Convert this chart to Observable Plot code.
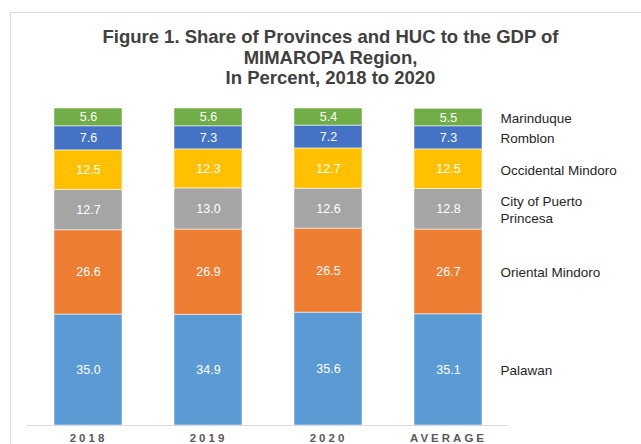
<!DOCTYPE html>
<html>
<head>
<meta charset="utf-8">
<script src="https://cdn.jsdelivr.net/npm/d3@7"></script>
<script src="https://cdn.jsdelivr.net/npm/@observablehq/plot@0.6"></script>
<style>
  html, body { margin: 0; padding: 0; background: #fff; }
  #wrap { position: relative; width: 641px; height: 444px; overflow: hidden; font-family: "Liberation Sans", Arial, sans-serif; }
  #frameTop { position: absolute; left: 10px; top: 12px; right: 0; height: 0; border-top: 1px solid #d9d9d9; }
  #frameLeft { position: absolute; left: 10px; top: 12px; bottom: 0; width: 0; border-left: 1px solid #d9d9d9; }
  #title { position: absolute; left: 20px; right: 0; top: 27px; text-align: center; font-weight: bold; font-size: 18.5px; line-height: 20.5px; color: #404040; }
  #chart { position: absolute; left: 0; top: 0; }
</style>
</head>
<body>
<div id="wrap">
  <div id="chart"></div>
  <div id="frameTop"></div>
  <div id="frameLeft"></div>
  <div id="title">Figure 1. Share of Provinces and HUC to the GDP of<br>MIMAROPA Region,<br>In Percent, 2018 to 2020</div>
</div>
<script>
const categories = ["2018", "2019", "2020", "AVERAGE"];
const series = ["Palawan", "Oriental Mindoro", "City of Puerto Princesa", "Occidental Mindoro", "Romblon", "Marinduque"];
const legendLabels = ["Palawan", "Oriental Mindoro", "City of Puerto\nPrincesa", "Occidental Mindoro", "Romblon", "Marinduque"];
const colors = ["#5B9BD5", "#ED7D31", "#A5A5A5", "#FFC000", "#4472C4", "#70AD47"];
const palawan = [35.0, 34.9, 35.6, 35.1];
const orientalMindoro = [26.6, 26.9, 26.5, 26.7];
const puertoPrincesa = [12.7, 13.0, 12.6, 12.8];
const occidentalMindoro = [12.5, 12.3, 12.7, 12.5];
const romblon = [7.6, 7.3, 7.2, 7.3];
const marinduque = [5.6, 5.6, 5.4, 5.5];

const valuesBySeries = [palawan, orientalMindoro, puertoPrincesa, occidentalMindoro, romblon, marinduque];
const data = [];
series.forEach((s, i) => {
  categories.forEach((c, j) => {
    data.push({category: c, series: s, value: valuesBySeries[i][j], legend: legendLabels[i]});
  });
});

const chart = Plot.plot({
  width: 641,
  height: 444,
  marginTop: 108,
  marginBottom: 19,
  marginLeft: 27,
  marginRight: 133,
  style: {fontFamily: "'Liberation Sans', Arial, sans-serif", background: "transparent", overflow: "visible"},
  x: {domain: categories, paddingInner: 0.436, paddingOuter: 0.218, label: null},
  y: {domain: [0, 100], axis: null},
  color: {domain: series, range: colors},
  marks: [
    Plot.barY(data, Plot.stackY({x: "category", y: "value", z: "series", order: series, fill: "series", stroke: "#ffffff", strokeOpacity: 0.55, strokeWidth: 1})),
    Plot.text(data, Plot.stackY({x: "category", y: "value", z: "series", order: series, text: d => d.value.toFixed(1), fill: "#ffffff", fontSize: 12.5})),
    Plot.text(data, Plot.stackY({filter: d => d.category === "AVERAGE", x: "category", y: "value", z: "series", order: series, text: "legend", textAnchor: "start", dx: 52, fill: "#262626", fontSize: 13.5, lineHeight: 1.25})),
    Plot.ruleY([0], {stroke: "#d9d9d9", strokeWidth: 1}),
    Plot.axisX({tickSize: 0, tickPadding: 8, fontWeight: "bold", fontSize: 11.5, fill: "#595959", label: null})
  ]
});
d3.select(chart).selectAll("g[aria-label='x-axis tick label'] text").style("letter-spacing", "3px");
document.getElementById("chart").appendChild(chart);
</script>
</body>
</html>
